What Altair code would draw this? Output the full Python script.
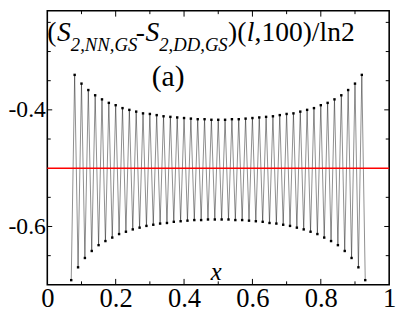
import altair as alt
import pandas as pd

# subsystem length l (x = l/100) and entropy difference / ln2
l_vals = list(range(7, 94))
s_vals = [
    -0.692, -0.340, -0.670, -0.355, -0.654, -0.366, -0.642, -0.375, -0.632, -0.382,
    -0.625, -0.388, -0.619, -0.392, -0.613, -0.397, -0.609, -0.400, -0.605, -0.403,
    -0.602, -0.406, -0.599, -0.407, -0.597, -0.409, -0.595, -0.411, -0.594, -0.412,
    -0.592, -0.413, -0.591, -0.414, -0.590, -0.415, -0.589, -0.416, -0.589, -0.416,
    -0.588, -0.417, -0.588, -0.417, -0.588, -0.417, -0.588, -0.416, -0.589, -0.416,
    -0.589, -0.415, -0.590, -0.414, -0.591, -0.413, -0.592, -0.412, -0.594, -0.411,
    -0.595, -0.409, -0.597, -0.407, -0.599, -0.406, -0.602, -0.403, -0.605, -0.400,
    -0.609, -0.397, -0.613, -0.392, -0.619, -0.388, -0.625, -0.382, -0.632, -0.375,
    -0.642, -0.366, -0.654, -0.355, -0.670, -0.340, -0.692,
]
ref_value = [-0.5]

x_labels = [0, 0.2, 0.4, 0.6, 0.8, 1]
y_labels = [-0.6, -0.4]
x_major = [0.2, 0.4, 0.6, 0.8]
x_minor = [0.1, 0.3, 0.5, 0.7, 0.9]
y_major = [-0.6, -0.4]
y_minor = [-0.65, -0.55, -0.45, -0.35, -0.3, -0.25]

OX, OY = 48, 8          # plot origin on the page
W, H = 348, 279
SERIF = "Liberation Serif, Times New Roman, Times, serif"

df = pd.DataFrame({"l": l_vals, "s": s_vals})
df["x"] = df["l"] / 100.0

xs = alt.Scale(domain=[0, 1], nice=False, zero=False)
ys = alt.Scale(domain=[-0.70, -0.23], nice=False, zero=False)

xaxis = alt.Axis(values=x_labels, format="~g", ticks=False, domain=False, grid=False,
                 labelFont=SERIF, labelFontSize=27, labelColor="black", labelPadding=1,
                 title=None, labelFlush=False)
yaxis = alt.Axis(values=y_labels, labelExpr="'-' + format(-datum.value, '.1f')",
                 ticks=False, domain=False, grid=False, labelFont=SERIF, labelFontSize=24,
                 labelColor="black", labelPadding=2, title=None)

base = alt.Chart(df)
line = base.mark_line(color="black", strokeWidth=0.6, opacity=0.75).encode(
    x=alt.X("x:Q", scale=xs, axis=xaxis),
    y=alt.Y("s:Q", scale=ys, axis=yaxis),
    order="l:Q",
)
pts = base.mark_point(filled=True, color="black", size=6, opacity=1, shape="square").encode(
    x=alt.X("x:Q", scale=xs),
    y=alt.Y("s:Q", scale=ys),
)
red = alt.Chart(pd.DataFrame({"r": ref_value})).mark_rule(color="#ff0000", strokeWidth=1.6).encode(
    y=alt.Y("r:Q", scale=ys), x=alt.value(0), x2=alt.value(W)
)


def yticks(vals, length):
    d = pd.DataFrame({"v": vals})
    left = alt.Chart(d).mark_rule(color="black", strokeWidth=1).encode(
        y=alt.Y("v:Q", scale=ys), x=alt.value(0), x2=alt.value(length))
    right = alt.Chart(d).mark_rule(color="black", strokeWidth=1).encode(
        y=alt.Y("v:Q", scale=ys), x=alt.value(W - length), x2=alt.value(W))
    return [left, right]


def xticks(vals, length):
    d = pd.DataFrame({"v": vals})
    bot = alt.Chart(d).mark_rule(color="black", strokeWidth=1).encode(
        x=alt.X("v:Q", scale=xs), y=alt.value(H - length), y2=alt.value(H))
    top = alt.Chart(d).mark_rule(color="black", strokeWidth=1).encode(
        x=alt.X("v:Q", scale=xs), y=alt.value(0), y2=alt.value(length))
    return [bot, top]


def txt(s, px, py, size, italic=False, align="left"):
    # px, py: position on the page
    return alt.Chart(pd.DataFrame({"t": [s]})).mark_text(
        font=SERIF, fontSize=size, fontStyle="italic" if italic else "normal",
        align=align, baseline="alphabetic", color="black",
    ).encode(x=alt.value(px - OX), y=alt.value(py - OY), text="t:N")


texts = [
    txt("(", 48, 39, 28),
    txt("S", 58, 39, 28, italic=True),
    txt("2,NN,GS", 72, 49, 19, italic=True),
    txt("-", 138, 39, 28),
    txt("S", 148, 39, 28, italic=True),
    txt("2,DD,GS", 162, 49, 19, italic=True),
    txt(")(", 232, 39, 28),
    txt("l", 251, 39, 28, italic=True),
    txt(",100)/ln2", 259, 39, 28),
    txt("(a)", 171, 85, 30, align="center"),
    txt("x", 220, 282, 25, italic=True, align="center"),
]

layers = [line, pts] + yticks(y_major, 5) + yticks(y_minor, 3.5) + xticks(x_major, 6) + \
    xticks(x_minor, 3.5) + [red] + texts

chart = alt.layer(*layers).properties(
    width=W, height=H,
    autosize=alt.AutoSizeParams(type="none"),
    padding={"left": OX - 8, "top": OY - 8, "right": 10, "bottom": 30},
).configure_view(stroke="black", strokeWidth=1.6)

chart.save("out.html", embed_options={"renderer": "svg", "actions": False})
